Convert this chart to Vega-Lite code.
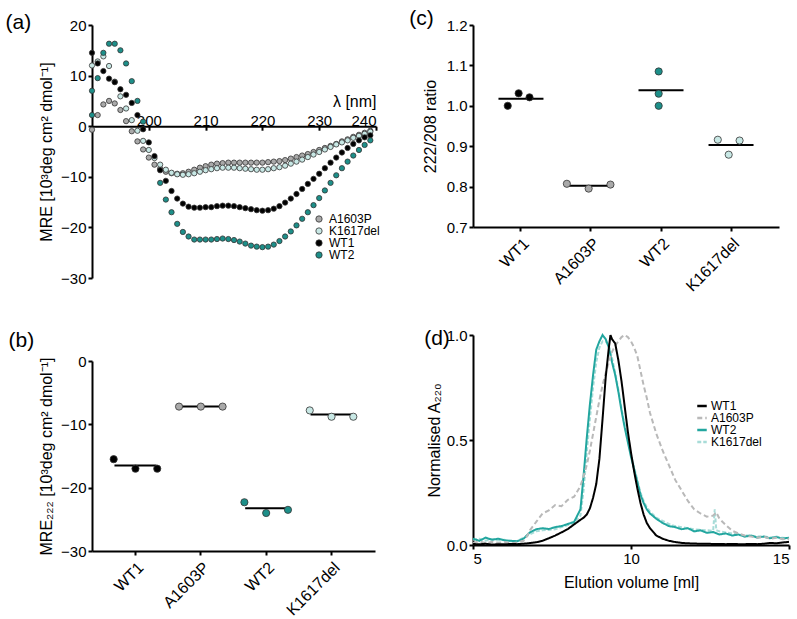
{
  "$schema": "https://vega.github.io/schema/vega-lite/v6.json",
  "padding": {"left": 5, "top": 8, "right": 5, "bottom": 5},
  "config": {
    "font": "Liberation Sans",
    "view": {"stroke": null},
    "axis": {"domainColor": "black", "domainWidth": 2, "tickColor": "black", "tickWidth": 2, "tickSize": 4, "labelColor": "black", "labelFont": "Liberation Sans", "labelFontSize": 15, "titleFont": "Liberation Sans", "titleFontSize": 16, "titleFontWeight": "normal", "titleColor": "black", "grid": false, "labelPadding": 2},
    "title": {"anchor": "start", "frame": "bounds", "fontSize": 21, "fontWeight": "normal", "font": "Liberation Sans", "color": "black"},
    "legend": {"labelFont": "Liberation Sans", "labelColor": "black", "labelFontSize": 13}
  },
  "resolve": {"scale": {"color": "independent", "strokeDash": "independent"}, "legend": {"color": "independent", "strokeDash": "independent"}},
  "datasets": {
    "cd": [
      {"s":"A1603P","nm":190,"v":-0.7},{"s":"A1603P","nm":191,"v":2.2},{"s":"A1603P","nm":192,"v":4.3},{"s":"A1603P","nm":193,"v":5.0},{"s":"A1603P","nm":194,"v":4.5},{"s":"A1603P","nm":195,"v":3.2},{"s":"A1603P","nm":196,"v":1.0},{"s":"A1603P","nm":197,"v":-1.0},{"s":"A1603P","nm":198,"v":-3.0},{"s":"A1603P","nm":199,"v":-4.6},{"s":"A1603P","nm":200,"v":-6.2},{"s":"A1603P","nm":201,"v":-7.6},{"s":"A1603P","nm":202,"v":-8.4},{"s":"A1603P","nm":203,"v":-9.0},{"s":"A1603P","nm":204,"v":-9.3},{"s":"A1603P","nm":205,"v":-9.4},{"s":"A1603P","nm":206,"v":-9.3},{"s":"A1603P","nm":207,"v":-9.0},{"s":"A1603P","nm":208,"v":-8.6},{"s":"A1603P","nm":209,"v":-8.2},{"s":"A1603P","nm":210,"v":-7.9},{"s":"A1603P","nm":211,"v":-7.6},{"s":"A1603P","nm":212,"v":-7.4},{"s":"A1603P","nm":213,"v":-7.3},{"s":"A1603P","nm":214,"v":-7.2},{"s":"A1603P","nm":215,"v":-7.2},{"s":"A1603P","nm":216,"v":-7.2},{"s":"A1603P","nm":217,"v":-7.2},{"s":"A1603P","nm":218,"v":-7.2},{"s":"A1603P","nm":219,"v":-7.2},{"s":"A1603P","nm":220,"v":-7.2},{"s":"A1603P","nm":221,"v":-7.1},{"s":"A1603P","nm":222,"v":-7.0},{"s":"A1603P","nm":223,"v":-6.9},{"s":"A1603P","nm":224,"v":-6.7},{"s":"A1603P","nm":225,"v":-6.4},{"s":"A1603P","nm":226,"v":-6.1},{"s":"A1603P","nm":227,"v":-5.8},{"s":"A1603P","nm":228,"v":-5.5},{"s":"A1603P","nm":229,"v":-5.1},{"s":"A1603P","nm":230,"v":-4.7},{"s":"A1603P","nm":231,"v":-4.3},{"s":"A1603P","nm":232,"v":-3.9},{"s":"A1603P","nm":233,"v":-3.5},{"s":"A1603P","nm":234,"v":-3.0},{"s":"A1603P","nm":235,"v":-2.6},{"s":"A1603P","nm":236,"v":-2.1},{"s":"A1603P","nm":237,"v":-1.7},{"s":"A1603P","nm":238,"v":-1.3},{"s":"A1603P","nm":239,"v":-0.9},
      {"s":"K1617del","nm":190,"v":12.0},{"s":"K1617del","nm":191,"v":12.8},{"s":"K1617del","nm":192,"v":13.8},{"s":"K1617del","nm":193,"v":11.9},{"s":"K1617del","nm":194,"v":8.8},{"s":"K1617del","nm":195,"v":5.9},{"s":"K1617del","nm":196,"v":3.5},{"s":"K1617del","nm":197,"v":1.2},{"s":"K1617del","nm":198,"v":-0.9},{"s":"K1617del","nm":199,"v":-2.9},{"s":"K1617del","nm":200,"v":-4.7},{"s":"K1617del","nm":201,"v":-6.3},{"s":"K1617del","nm":202,"v":-7.6},{"s":"K1617del","nm":203,"v":-8.6},{"s":"K1617del","nm":204,"v":-9.2},{"s":"K1617del","nm":205,"v":-9.5},{"s":"K1617del","nm":206,"v":-9.6},{"s":"K1617del","nm":207,"v":-9.5},{"s":"K1617del","nm":208,"v":-9.3},{"s":"K1617del","nm":209,"v":-9.0},{"s":"K1617del","nm":210,"v":-8.7},{"s":"K1617del","nm":211,"v":-8.5},{"s":"K1617del","nm":212,"v":-8.3},{"s":"K1617del","nm":213,"v":-8.2},{"s":"K1617del","nm":214,"v":-8.2},{"s":"K1617del","nm":215,"v":-8.2},{"s":"K1617del","nm":216,"v":-8.3},{"s":"K1617del","nm":217,"v":-8.4},{"s":"K1617del","nm":218,"v":-8.5},{"s":"K1617del","nm":219,"v":-8.6},{"s":"K1617del","nm":220,"v":-8.6},{"s":"K1617del","nm":221,"v":-8.5},{"s":"K1617del","nm":222,"v":-8.3},{"s":"K1617del","nm":223,"v":-8.1},{"s":"K1617del","nm":224,"v":-7.8},{"s":"K1617del","nm":225,"v":-7.4},{"s":"K1617del","nm":226,"v":-7.0},{"s":"K1617del","nm":227,"v":-6.6},{"s":"K1617del","nm":228,"v":-6.1},{"s":"K1617del","nm":229,"v":-5.6},{"s":"K1617del","nm":230,"v":-5.1},{"s":"K1617del","nm":231,"v":-4.6},{"s":"K1617del","nm":232,"v":-4.1},{"s":"K1617del","nm":233,"v":-3.6},{"s":"K1617del","nm":234,"v":-3.2},{"s":"K1617del","nm":235,"v":-2.8},{"s":"K1617del","nm":236,"v":-2.3},{"s":"K1617del","nm":237,"v":-1.9},{"s":"K1617del","nm":238,"v":-1.5},{"s":"K1617del","nm":239,"v":-1.1},
      {"s":"WT1","nm":190,"v":14.5},{"s":"WT1","nm":191,"v":12.4},{"s":"WT1","nm":192,"v":10.9},{"s":"WT1","nm":193,"v":9.4},{"s":"WT1","nm":194,"v":8.7},{"s":"WT1","nm":195,"v":7.3},{"s":"WT1","nm":196,"v":6.2},{"s":"WT1","nm":197,"v":4.6},{"s":"WT1","nm":198,"v":2.2},{"s":"WT1","nm":199,"v":-0.6},{"s":"WT1","nm":200,"v":-3.2},{"s":"WT1","nm":201,"v":-5.9},{"s":"WT1","nm":202,"v":-8.7},{"s":"WT1","nm":203,"v":-10.8},{"s":"WT1","nm":204,"v":-12.8},{"s":"WT1","nm":205,"v":-14.3},{"s":"WT1","nm":206,"v":-15.3},{"s":"WT1","nm":207,"v":-15.9},{"s":"WT1","nm":208,"v":-16.1},{"s":"WT1","nm":209,"v":-16.1},{"s":"WT1","nm":210,"v":-16.0},{"s":"WT1","nm":211,"v":-16.0},{"s":"WT1","nm":212,"v":-15.8},{"s":"WT1","nm":213,"v":-15.7},{"s":"WT1","nm":214,"v":-15.7},{"s":"WT1","nm":215,"v":-15.8},{"s":"WT1","nm":216,"v":-16.0},{"s":"WT1","nm":217,"v":-16.2},{"s":"WT1","nm":218,"v":-16.4},{"s":"WT1","nm":219,"v":-16.6},{"s":"WT1","nm":220,"v":-16.7},{"s":"WT1","nm":221,"v":-16.6},{"s":"WT1","nm":222,"v":-16.3},{"s":"WT1","nm":223,"v":-15.8},{"s":"WT1","nm":224,"v":-15.1},{"s":"WT1","nm":225,"v":-14.3},{"s":"WT1","nm":226,"v":-13.4},{"s":"WT1","nm":227,"v":-12.4},{"s":"WT1","nm":228,"v":-11.4},{"s":"WT1","nm":229,"v":-10.4},{"s":"WT1","nm":230,"v":-9.4},{"s":"WT1","nm":231,"v":-8.3},{"s":"WT1","nm":232,"v":-7.2},{"s":"WT1","nm":233,"v":-6.2},{"s":"WT1","nm":234,"v":-5.2},{"s":"WT1","nm":235,"v":-4.3},{"s":"WT1","nm":236,"v":-3.5},{"s":"WT1","nm":237,"v":-2.8},{"s":"WT1","nm":238,"v":-2.2},{"s":"WT1","nm":239,"v":-1.8},
      {"s":"WT2","nm":190,"v":7.0},{"s":"WT2","nm":190,"v":2.2},{"s":"WT2","nm":191,"v":9.5},{"s":"WT2","nm":192,"v":14.5},{"s":"WT2","nm":193,"v":16.3},{"s":"WT2","nm":194,"v":16.3},{"s":"WT2","nm":195,"v":15.0},{"s":"WT2","nm":196,"v":12.4},{"s":"WT2","nm":197,"v":8.9},{"s":"WT2","nm":198,"v":5.0},{"s":"WT2","nm":199,"v":0.9},{"s":"WT2","nm":202,"v":-11.2},{"s":"WT2","nm":203,"v":-14.5},{"s":"WT2","nm":204,"v":-17.0},{"s":"WT2","nm":205,"v":-19.3},{"s":"WT2","nm":206,"v":-20.9},{"s":"WT2","nm":207,"v":-21.8},{"s":"WT2","nm":208,"v":-22.4},{"s":"WT2","nm":209,"v":-22.4},{"s":"WT2","nm":210,"v":-22.4},{"s":"WT2","nm":211,"v":-22.4},{"s":"WT2","nm":212,"v":-22.3},{"s":"WT2","nm":213,"v":-22.2},{"s":"WT2","nm":214,"v":-22.3},{"s":"WT2","nm":215,"v":-22.5},{"s":"WT2","nm":216,"v":-22.8},{"s":"WT2","nm":217,"v":-23.2},{"s":"WT2","nm":218,"v":-23.6},{"s":"WT2","nm":219,"v":-23.8},{"s":"WT2","nm":220,"v":-23.9},{"s":"WT2","nm":221,"v":-23.8},{"s":"WT2","nm":222,"v":-23.4},{"s":"WT2","nm":223,"v":-22.7},{"s":"WT2","nm":224,"v":-21.8},{"s":"WT2","nm":225,"v":-20.8},{"s":"WT2","nm":226,"v":-19.6},{"s":"WT2","nm":227,"v":-18.3},{"s":"WT2","nm":228,"v":-17.0},{"s":"WT2","nm":229,"v":-15.6},{"s":"WT2","nm":230,"v":-14.2},{"s":"WT2","nm":231,"v":-12.7},{"s":"WT2","nm":232,"v":-11.2},{"s":"WT2","nm":233,"v":-9.7},{"s":"WT2","nm":234,"v":-8.3},{"s":"WT2","nm":235,"v":-7.0},{"s":"WT2","nm":236,"v":-5.8},{"s":"WT2","nm":237,"v":-4.7},{"s":"WT2","nm":238,"v":-3.7},{"s":"WT2","nm":239,"v":-2.8}
    ],
    "mre": [
      {"g":"WT1","slot":1,"v":-15.5},{"g":"WT1","slot":3,"v":-17.0},{"g":"WT1","slot":5,"v":-17.0},
      {"g":"A1603P","slot":1,"v":-7.2},{"g":"A1603P","slot":3,"v":-7.2},{"g":"A1603P","slot":5,"v":-7.2},
      {"g":"WT2","slot":1,"v":-22.3},{"g":"WT2","slot":3,"v":-24.0},{"g":"WT2","slot":5,"v":-23.5},
      {"g":"K1617del","slot":1,"v":-7.8},{"g":"K1617del","slot":3,"v":-8.8},{"g":"K1617del","slot":5,"v":-8.8}
    ],
    "ratio": [
      {"g":"WT1","slot":2,"v":1.000},{"g":"WT1","slot":3,"v":1.031},{"g":"WT1","slot":4,"v":1.021},
      {"g":"A1603P","slot":1,"v":0.807},{"g":"A1603P","slot":3,"v":0.795},{"g":"A1603P","slot":5,"v":0.805},
      {"g":"WT2","slot":3,"v":1.085},{"g":"WT2","slot":3,"v":1.030},{"g":"WT2","slot":3,"v":1.000},
      {"g":"K1617del","slot":2,"v":0.916},{"g":"K1617del","slot":4,"v":0.914},{"g":"K1617del","slot":3,"v":0.879}
    ],
    "sec": [
      {"t":"K1617del","ml":5.0,"a":0.025},{"t":"K1617del","ml":5.2,"a":0.03},{"t":"K1617del","ml":5.4,"a":0.02},{"t":"K1617del","ml":5.6,"a":0.028},{"t":"K1617del","ml":5.8,"a":0.022},{"t":"K1617del","ml":6.0,"a":0.025},{"t":"K1617del","ml":6.2,"a":0.018},{"t":"K1617del","ml":6.4,"a":0.02},{"t":"K1617del","ml":6.6,"a":0.035},{"t":"K1617del","ml":6.8,"a":0.05},{"t":"K1617del","ml":7.0,"a":0.065},{"t":"K1617del","ml":7.2,"a":0.07},{"t":"K1617del","ml":7.4,"a":0.072},{"t":"K1617del","ml":7.6,"a":0.075},{"t":"K1617del","ml":7.8,"a":0.085},{"t":"K1617del","ml":8.0,"a":0.095},{"t":"K1617del","ml":8.2,"a":0.105},{"t":"K1617del","ml":8.4,"a":0.14},{"t":"K1617del","ml":8.5,"a":0.26},{"t":"K1617del","ml":8.6,"a":0.44},{"t":"K1617del","ml":8.7,"a":0.6},{"t":"K1617del","ml":8.8,"a":0.75},{"t":"K1617del","ml":8.9,"a":0.87},{"t":"K1617del","ml":9.0,"a":0.94},{"t":"K1617del","ml":9.1,"a":0.97},{"t":"K1617del","ml":9.2,"a":0.97},{"t":"K1617del","ml":9.3,"a":0.95},{"t":"K1617del","ml":9.4,"a":0.89},{"t":"K1617del","ml":9.5,"a":0.82},{"t":"K1617del","ml":9.6,"a":0.74},{"t":"K1617del","ml":9.7,"a":0.65},{"t":"K1617del","ml":9.8,"a":0.57},{"t":"K1617del","ml":9.9,"a":0.5},{"t":"K1617del","ml":10.0,"a":0.43},{"t":"K1617del","ml":10.1,"a":0.37},{"t":"K1617del","ml":10.2,"a":0.31},{"t":"K1617del","ml":10.3,"a":0.25},{"t":"K1617del","ml":10.4,"a":0.21},{"t":"K1617del","ml":10.5,"a":0.18},{"t":"K1617del","ml":10.6,"a":0.16},{"t":"K1617del","ml":10.8,"a":0.13},{"t":"K1617del","ml":11.0,"a":0.115},{"t":"K1617del","ml":11.2,"a":0.1},{"t":"K1617del","ml":11.4,"a":0.09},{"t":"K1617del","ml":11.6,"a":0.085},{"t":"K1617del","ml":11.8,"a":0.08},{"t":"K1617del","ml":12.0,"a":0.075},{"t":"K1617del","ml":12.2,"a":0.072},{"t":"K1617del","ml":12.4,"a":0.07},{"t":"K1617del","ml":12.6,"a":0.068},{"t":"K1617del","ml":12.65,"a":0.17},{"t":"K1617del","ml":12.7,"a":0.07},{"t":"K1617del","ml":12.8,"a":0.065},{"t":"K1617del","ml":13.0,"a":0.06},{"t":"K1617del","ml":13.2,"a":0.055},{"t":"K1617del","ml":13.4,"a":0.05},{"t":"K1617del","ml":13.6,"a":0.045},{"t":"K1617del","ml":13.8,"a":0.045},{"t":"K1617del","ml":14.0,"a":0.04},{"t":"K1617del","ml":14.2,"a":0.042},{"t":"K1617del","ml":14.4,"a":0.036},{"t":"K1617del","ml":14.6,"a":0.04},{"t":"K1617del","ml":14.8,"a":0.035},{"t":"K1617del","ml":15.0,"a":0.03},
      {"t":"WT2","ml":5.0,"a":0.03},{"t":"WT2","ml":5.2,"a":0.02},{"t":"WT2","ml":5.4,"a":0.035},{"t":"WT2","ml":5.6,"a":0.025},{"t":"WT2","ml":5.8,"a":0.03},{"t":"WT2","ml":6.0,"a":0.022},{"t":"WT2","ml":6.2,"a":0.02},{"t":"WT2","ml":6.4,"a":0.018},{"t":"WT2","ml":6.6,"a":0.03},{"t":"WT2","ml":6.8,"a":0.06},{"t":"WT2","ml":7.0,"a":0.075},{"t":"WT2","ml":7.2,"a":0.08},{"t":"WT2","ml":7.4,"a":0.076},{"t":"WT2","ml":7.6,"a":0.085},{"t":"WT2","ml":7.8,"a":0.09},{"t":"WT2","ml":8.0,"a":0.1},{"t":"WT2","ml":8.2,"a":0.11},{"t":"WT2","ml":8.4,"a":0.17},{"t":"WT2","ml":8.5,"a":0.33},{"t":"WT2","ml":8.6,"a":0.51},{"t":"WT2","ml":8.7,"a":0.67},{"t":"WT2","ml":8.8,"a":0.81},{"t":"WT2","ml":8.9,"a":0.93},{"t":"WT2","ml":9.0,"a":0.97},{"t":"WT2","ml":9.1,"a":1.0},{"t":"WT2","ml":9.2,"a":0.98},{"t":"WT2","ml":9.3,"a":0.94},{"t":"WT2","ml":9.4,"a":0.87},{"t":"WT2","ml":9.5,"a":0.81},{"t":"WT2","ml":9.6,"a":0.73},{"t":"WT2","ml":9.7,"a":0.64},{"t":"WT2","ml":9.8,"a":0.56},{"t":"WT2","ml":9.9,"a":0.49},{"t":"WT2","ml":10.0,"a":0.42},{"t":"WT2","ml":10.1,"a":0.36},{"t":"WT2","ml":10.2,"a":0.3},{"t":"WT2","ml":10.3,"a":0.24},{"t":"WT2","ml":10.4,"a":0.2},{"t":"WT2","ml":10.5,"a":0.17},{"t":"WT2","ml":10.6,"a":0.15},{"t":"WT2","ml":10.8,"a":0.125},{"t":"WT2","ml":11.0,"a":0.105},{"t":"WT2","ml":11.2,"a":0.09},{"t":"WT2","ml":11.4,"a":0.085},{"t":"WT2","ml":11.6,"a":0.075},{"t":"WT2","ml":11.8,"a":0.08},{"t":"WT2","ml":12.0,"a":0.065},{"t":"WT2","ml":12.2,"a":0.07},{"t":"WT2","ml":12.4,"a":0.058},{"t":"WT2","ml":12.6,"a":0.062},{"t":"WT2","ml":12.8,"a":0.05},{"t":"WT2","ml":13.0,"a":0.055},{"t":"WT2","ml":13.2,"a":0.045},{"t":"WT2","ml":13.4,"a":0.05},{"t":"WT2","ml":13.6,"a":0.04},{"t":"WT2","ml":13.8,"a":0.045},{"t":"WT2","ml":14.0,"a":0.035},{"t":"WT2","ml":14.2,"a":0.04},{"t":"WT2","ml":14.4,"a":0.032},{"t":"WT2","ml":14.6,"a":0.038},{"t":"WT2","ml":14.8,"a":0.03},{"t":"WT2","ml":15.0,"a":0.035},
      {"t":"A1603P","ml":5.0,"a":0.01},{"t":"A1603P","ml":5.2,"a":0.018},{"t":"A1603P","ml":5.4,"a":0.008},{"t":"A1603P","ml":5.6,"a":0.015},{"t":"A1603P","ml":5.8,"a":0.01},{"t":"A1603P","ml":6.0,"a":0.014},{"t":"A1603P","ml":6.2,"a":0.008},{"t":"A1603P","ml":6.4,"a":0.012},{"t":"A1603P","ml":6.6,"a":0.02},{"t":"A1603P","ml":6.7,"a":0.04},{"t":"A1603P","ml":6.8,"a":0.07},{"t":"A1603P","ml":6.9,"a":0.09},{"t":"A1603P","ml":7.0,"a":0.11},{"t":"A1603P","ml":7.2,"a":0.15},{"t":"A1603P","ml":7.4,"a":0.165},{"t":"A1603P","ml":7.6,"a":0.19},{"t":"A1603P","ml":7.8,"a":0.185},{"t":"A1603P","ml":8.0,"a":0.215},{"t":"A1603P","ml":8.2,"a":0.23},{"t":"A1603P","ml":8.4,"a":0.28},{"t":"A1603P","ml":8.5,"a":0.33},{"t":"A1603P","ml":8.6,"a":0.38},{"t":"A1603P","ml":8.7,"a":0.45},{"t":"A1603P","ml":8.8,"a":0.53},{"t":"A1603P","ml":8.9,"a":0.61},{"t":"A1603P","ml":9.0,"a":0.69},{"t":"A1603P","ml":9.1,"a":0.76},{"t":"A1603P","ml":9.2,"a":0.82},{"t":"A1603P","ml":9.3,"a":0.87},{"t":"A1603P","ml":9.4,"a":0.92},{"t":"A1603P","ml":9.5,"a":0.95},{"t":"A1603P","ml":9.6,"a":0.97},{"t":"A1603P","ml":9.7,"a":0.99},{"t":"A1603P","ml":9.8,"a":1.0},{"t":"A1603P","ml":9.9,"a":0.99},{"t":"A1603P","ml":10.0,"a":0.97},{"t":"A1603P","ml":10.1,"a":0.94},{"t":"A1603P","ml":10.2,"a":0.9},{"t":"A1603P","ml":10.3,"a":0.83},{"t":"A1603P","ml":10.4,"a":0.76},{"t":"A1603P","ml":10.5,"a":0.7},{"t":"A1603P","ml":10.6,"a":0.63},{"t":"A1603P","ml":10.8,"a":0.53},{"t":"A1603P","ml":11.0,"a":0.45},{"t":"A1603P","ml":11.2,"a":0.38},{"t":"A1603P","ml":11.4,"a":0.31},{"t":"A1603P","ml":11.6,"a":0.26},{"t":"A1603P","ml":11.8,"a":0.21},{"t":"A1603P","ml":12.0,"a":0.17},{"t":"A1603P","ml":12.2,"a":0.15},{"t":"A1603P","ml":12.4,"a":0.135},{"t":"A1603P","ml":12.6,"a":0.14},{"t":"A1603P","ml":12.7,"a":0.155},{"t":"A1603P","ml":12.8,"a":0.125},{"t":"A1603P","ml":13.0,"a":0.095},{"t":"A1603P","ml":13.2,"a":0.068},{"t":"A1603P","ml":13.4,"a":0.055},{"t":"A1603P","ml":13.6,"a":0.045},{"t":"A1603P","ml":13.8,"a":0.04},{"t":"A1603P","ml":14.0,"a":0.035},{"t":"A1603P","ml":14.2,"a":0.04},{"t":"A1603P","ml":14.4,"a":0.03},{"t":"A1603P","ml":14.6,"a":0.035},{"t":"A1603P","ml":14.8,"a":0.028},{"t":"A1603P","ml":15.0,"a":0.03},
      {"t":"WT1","ml":5.0,"a":0.005},{"t":"WT1","ml":5.2,"a":0.003},{"t":"WT1","ml":5.4,"a":0.006},{"t":"WT1","ml":5.6,"a":0.002},{"t":"WT1","ml":5.8,"a":0.004},{"t":"WT1","ml":6.0,"a":0.003},{"t":"WT1","ml":6.2,"a":0.005},{"t":"WT1","ml":6.4,"a":0.004},{"t":"WT1","ml":6.6,"a":0.006},{"t":"WT1","ml":6.8,"a":0.009},{"t":"WT1","ml":7.0,"a":0.013},{"t":"WT1","ml":7.2,"a":0.02},{"t":"WT1","ml":7.4,"a":0.032},{"t":"WT1","ml":7.6,"a":0.045},{"t":"WT1","ml":7.8,"a":0.06},{"t":"WT1","ml":8.0,"a":0.076},{"t":"WT1","ml":8.2,"a":0.098},{"t":"WT1","ml":8.4,"a":0.12},{"t":"WT1","ml":8.5,"a":0.13},{"t":"WT1","ml":8.6,"a":0.145},{"t":"WT1","ml":8.7,"a":0.175},{"t":"WT1","ml":8.8,"a":0.225},{"t":"WT1","ml":8.9,"a":0.29},{"t":"WT1","ml":9.0,"a":0.41},{"t":"WT1","ml":9.1,"a":0.6},{"t":"WT1","ml":9.2,"a":0.8},{"t":"WT1","ml":9.3,"a":0.94},{"t":"WT1","ml":9.35,"a":1.0},{"t":"WT1","ml":9.4,"a":0.98},{"t":"WT1","ml":9.5,"a":0.96},{"t":"WT1","ml":9.6,"a":0.88},{"t":"WT1","ml":9.7,"a":0.78},{"t":"WT1","ml":9.8,"a":0.66},{"t":"WT1","ml":9.9,"a":0.54},{"t":"WT1","ml":10.0,"a":0.44},{"t":"WT1","ml":10.1,"a":0.35},{"t":"WT1","ml":10.2,"a":0.27},{"t":"WT1","ml":10.3,"a":0.2},{"t":"WT1","ml":10.4,"a":0.145},{"t":"WT1","ml":10.5,"a":0.105},{"t":"WT1","ml":10.6,"a":0.08},{"t":"WT1","ml":10.8,"a":0.045},{"t":"WT1","ml":11.0,"a":0.03},{"t":"WT1","ml":11.2,"a":0.02},{"t":"WT1","ml":11.4,"a":0.014},{"t":"WT1","ml":11.6,"a":0.01},{"t":"WT1","ml":11.8,"a":0.008},{"t":"WT1","ml":12.0,"a":0.007},{"t":"WT1","ml":12.2,"a":0.006},{"t":"WT1","ml":12.4,"a":0.006},{"t":"WT1","ml":12.6,"a":0.005},{"t":"WT1","ml":12.8,"a":0.005},{"t":"WT1","ml":13.0,"a":0.004},{"t":"WT1","ml":13.2,"a":0.005},{"t":"WT1","ml":13.4,"a":0.004},{"t":"WT1","ml":13.6,"a":0.004},{"t":"WT1","ml":13.8,"a":0.005},{"t":"WT1","ml":14.0,"a":0.004},{"t":"WT1","ml":14.2,"a":0.006},{"t":"WT1","ml":14.4,"a":0.01},{"t":"WT1","ml":14.6,"a":0.008},{"t":"WT1","ml":14.8,"a":0.012},{"t":"WT1","ml":15.0,"a":0.015}
    ]
  },
  "hconcat": [
    {
      "spacing": 44,
      "resolve": {"scale": {"color": "independent"}, "legend": {"color": "independent"}},
      "vconcat": [
        {
          "width": 284, "height": 253,
          "title": {"text": "(a)", "offset": -15, "dx": -33},
          "data": {"name": "cd"},
          "mark": {"type": "circle", "size": 28, "opacity": 1, "stroke": "#333333", "strokeWidth": 0.8},
          "encoding": {
            "x": {"field": "nm", "type": "quantitative", "scale": {"domain": [190, 240]}, "axis": {"orient": "top", "offset": -101.2, "values": [200, 210, 220, 230, 240], "tickSize": -4, "title": "λ [nm]", "titleAnchor": "end", "titlePadding": 4}},
            "y": {"field": "v", "type": "quantitative", "scale": {"domain": [-30, 20]}, "axis": {"values": [-30, -20, -10, 0, 10, 20], "title": "MRE [10³deg  cm² dmol⁻¹]", "titlePadding": 6}},
            "color": {"field": "s", "type": "nominal", "scale": {"domain": ["A1603P", "K1617del", "WT1", "WT2"], "range": ["#a9a9a9", "#c8e8e5", "#000000", "#1d8f89"]}, "legend": {"orient": "none", "legendX": 221, "legendY": 188, "title": null, "symbolType": "circle", "symbolSize": 40, "symbolStrokeColor": "#333333", "symbolStrokeWidth": 0.8, "rowPadding": 0, "labelOffset": 4, "labelFontSize": 12}}
          }
        },
        {
          "width": 283, "height": 190,
          "title": {"text": "(b)", "offset": 3, "dx": -30},
          "data": {"name": "mre"},
          "encoding": {
            "x": {"field": "g", "type": "nominal", "sort": ["WT1", "A1603P", "WT2", "K1617del"], "scale": {"paddingInner": 0, "paddingOuter": 0.165}, "axis": {"title": null, "labelAngle": -45, "labelAlign": "right", "labelBaseline": "top", "labelFontSize": 16, "labelPadding": 4}},
            "y": {"field": "v", "type": "quantitative", "scale": {"domain": [-30, 0]}, "axis": {"values": [-30, -20, -10, 0], "title": "MRE₂₂₂ [10³deg  cm² dmol⁻¹]", "titlePadding": 6}}
          },
          "layer": [
            {"mark": {"type": "tick", "color": "black", "thickness": 2, "size": 42}, "encoding": {"y": {"aggregate": "mean", "field": "v", "type": "quantitative"}}},
            {"mark": {"type": "circle", "size": 52, "opacity": 1, "stroke": "#333333", "strokeWidth": 0.8},
             "encoding": {
               "xOffset": {"field": "slot", "type": "ordinal", "scale": {"domain": [1, 2, 3, 4, 5], "paddingInner": 0, "paddingOuter": 3.61}},
               "color": {"field": "g", "type": "nominal", "scale": {"domain": ["WT1", "A1603P", "WT2", "K1617del"], "range": ["#000000", "#a9a9a9", "#1d8f89", "#c8e8e5"]}, "legend": null}
             }}
          ]
        }
      ]
    },
    {
      "spacing": 33,
      "resolve": {"scale": {"color": "independent", "strokeDash": "independent"}, "legend": {"color": "independent", "strokeDash": "independent"}},
      "vconcat": [
        {
          "width": 306, "height": 202,
          "title": {"text": "(c)", "offset": -11, "dx": -13},
          "data": {"name": "ratio"},
          "encoding": {
            "x": {"field": "g", "type": "nominal", "sort": ["WT1", "A1603P", "WT2", "K1617del"], "scale": {"paddingInner": 0, "paddingOuter": 0.185}, "axis": {"title": null, "labelAngle": -45, "labelAlign": "right", "labelBaseline": "top", "labelFontSize": 16, "labelPadding": 4}},
            "y": {"field": "v", "type": "quantitative", "scale": {"domain": [0.7, 1.2], "zero": false}, "axis": {"values": [0.7, 0.8, 0.9, 1.0, 1.1, 1.2], "format": ".1f", "title": "222/208 ratio", "titlePadding": 8}}
          },
          "layer": [
            {"mark": {"type": "tick", "color": "black", "thickness": 2, "size": 45}, "encoding": {"y": {"aggregate": "mean", "field": "v", "type": "quantitative", "scale": {"domain": [0.7, 1.2], "zero": false}}}},
            {"mark": {"type": "circle", "size": 52, "opacity": 1, "stroke": "#333333", "strokeWidth": 0.8},
             "encoding": {
               "xOffset": {"field": "slot", "type": "ordinal", "scale": {"domain": [1, 2, 3, 4, 5], "paddingInner": 0, "paddingOuter": 3.98}},
               "color": {"field": "g", "type": "nominal", "scale": {"domain": ["WT1", "A1603P", "WT2", "K1617del"], "range": ["#000000", "#a9a9a9", "#1d8f89", "#c8e8e5"]}, "legend": null}
             }}
          ]
        },
        {
          "width": 316, "height": 210,
          "title": {"text": "(d)", "offset": -21, "dx": -2},
          "data": {"name": "sec"},
          "mark": {"type": "line", "interpolate": "linear", "strokeWidth": 2},
          "encoding": {
            "x": {"field": "ml", "type": "quantitative", "scale": {"domain": [5, 15]}, "axis": {"values": [5, 10, 15], "title": "Elution volume [ml]", "titlePadding": 8}},
            "y": {"field": "a", "type": "quantitative", "scale": {"domain": [0, 1]}, "axis": {"values": [0, 0.5, 1], "format": ".1f", "title": "Normalised A₂₂₀", "titlePadding": 4}},
            "color": {"field": "t", "type": "nominal", "scale": {"domain": ["WT1", "A1603P", "WT2", "K1617del"], "range": ["#000000", "#b9b9b9", "#22a69f", "#a8dcd8"]}, "legend": {"orient": "none", "legendX": 223, "legendY": 65, "title": null, "symbolType": "stroke", "symbolSize": 90, "symbolStrokeWidth": 2.5, "rowPadding": -6, "labelOffset": 3, "labelFontSize": 12}},
            "strokeDash": {"field": "t", "type": "nominal", "scale": {"domain": ["WT1", "A1603P", "WT2", "K1617del"], "range": [[1, 0], [5, 3], [1, 0], [4, 2]]}, "legend": {"orient": "none", "legendX": 223, "legendY": 65, "title": null, "symbolType": "stroke", "symbolSize": 90, "symbolStrokeWidth": 2.5, "rowPadding": -6, "labelOffset": 3, "labelFontSize": 12}}
          }
        }
      ]
    }
  ],
  "spacing": 29
}
